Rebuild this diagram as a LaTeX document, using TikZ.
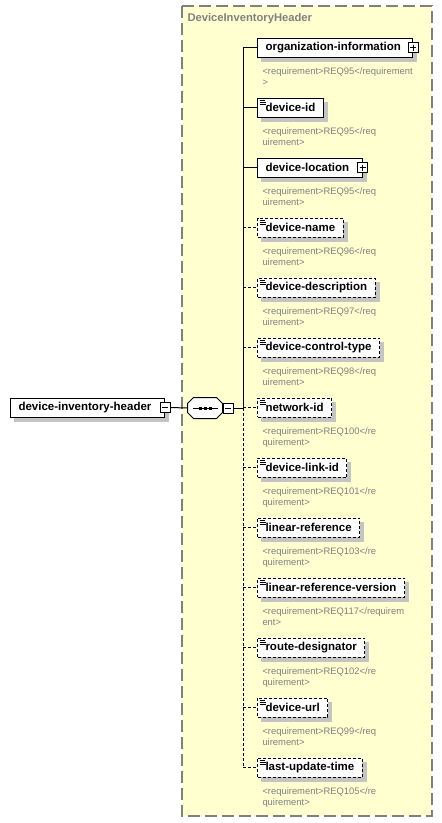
\documentclass[tikz,border=0pt]{standalone}
\usepackage{fontspec}
\newfontfamily\xsdfont{Liberation Sans}
\usetikzlibrary{calc, backgrounds}

\definecolor{groupfill}{RGB}{255,255,208}
\definecolor{framegray}{RGB}{128,128,128}
\definecolor{shadowgray}{RGB}{196,196,196}

\tikzset{
  elem/.style={draw, fill=white, line width=1pt, anchor=west, minimum height=19pt,
    inner ysep=0pt, inner xsep=8pt, font=\xsdfont\bfseries\fontsize{11.5}{13}\selectfont},
  optional/.style={dash pattern=on 3pt off 2pt},
  leaf/.style={path picture={
    \draw[line width=0.8pt, solid] ([xshift=2pt,yshift=-2pt]path picture bounding box.north west) -- ++(5pt,0pt);
    \draw[line width=0.8pt, solid] ([xshift=2pt,yshift=-4pt]path picture bounding box.north west) -- ++(6pt,0pt);
    \draw[line width=0.8pt, solid] ([xshift=2pt,yshift=-6pt]path picture bounding box.north west) -- ++(6pt,0pt);}},
  anno/.style={anchor=north west, inner sep=0pt, align=left, text=framegray,
    font=\xsdfont\fontsize{9.4}{10.5}\selectfont},
  togglebox/.style={draw, fill=white, line width=0.8pt, minimum size=10pt, inner sep=0pt},
  plusbox/.style={togglebox, path picture={
    \draw[line width=0.8pt] ([xshift=2pt]path picture bounding box.west) -- ([xshift=-2pt]path picture bounding box.east);
    \draw[line width=0.8pt] ([yshift=-2pt]path picture bounding box.north) -- ([yshift=2pt]path picture bounding box.south);}},
  minusbox/.style={togglebox, path picture={
    \draw[line width=0.8pt] ([xshift=2pt]path picture bounding box.west) -- ([xshift=-2pt]path picture bounding box.east);}},
  boxshadow/.style={fill=shadowgray},
}

\begin{document}
\begin{tikzpicture}[x=1pt, y=-1pt, line width=1pt]
  \useasboundingbox (0,0) rectangle (442,823);
  \node[anchor=west, inner sep=0pt, text=framegray, font=\xsdfont\bfseries\fontsize{11.2}{13}\selectfont] (title) at (187,19) {DeviceInventoryHeader};

  % root element and sequence
  \node[elem] (root) at (10,407.5) {device-inventory-header\hspace{5pt}\null};
  \node[minusbox] (rootminus) at (root.east) {};
  \node[minimum width=34pt, minimum height=20pt, inner sep=0pt] (seq) at (205,408) {};
  % octagon of the sequence
  \draw[fill=white] ($(seq.north west)+(6,0)$) -- ($(seq.north east)+(-6,0)$) -- ($(seq.north east)+(0,6)$)
    -- ($(seq.south east)+(0,-6)$) -- ($(seq.south east)+(-6,0)$) -- ($(seq.south west)+(6,0)$)
    -- ($(seq.south west)+(0,-6)$) -- ($(seq.north west)+(0,6)$) -- cycle;
  \draw ([xshift=5pt]seq.west) -- ([xshift=-5pt]seq.east);
  \fill ($(seq.center)+(-6.5,-1.5)$) rectangle ++(3,3);
  \fill ($(seq.center)+(-1.5,-1.5)$) rectangle ++(3,3);
  \fill ($(seq.center)+(3.5,-1.5)$) rectangle ++(3,3);
  \node[minusbox] (seqminus) at (228,408) {};
  \coordinate (seqjoin) at (243,408);
  \draw (rootminus.east) -- (seq.west);
  \draw (seqminus.east) -- (seqjoin);

  % children of the sequence
  \node[elem] (orginfo) at (257,47.5) {organization-information\hspace{4pt}\null};
  \node[plusbox] (orginfoplus) at (orginfo.east) {};
  \node[anno] (orginfonote) at (262,67.5) {<requirement>REQ95</requirement\\>};

  \node[elem, leaf] (devid) at (257,107.5) {device-id};
  \node[anno] (devidnote) at (262,127.5) {<requirement>REQ95</req\\uirement>};

  \node[elem] (devloc) at (257,167.5) {device-location\hspace{5pt}\null};
  \node[plusbox] (devlocplus) at (devloc.east) {};
  \node[anno] (devlocnote) at (262,187.5) {<requirement>REQ95</req\\uirement>};

  \node[elem, leaf, optional] (devname) at (257,227.5) {device-name};
  \node[anno] (devnamenote) at (262,247.5) {<requirement>REQ96</req\\uirement>};

  \node[elem, leaf, optional] (devdesc) at (257,287.5) {device-description};
  \node[anno] (devdescnote) at (262,307.5) {<requirement>REQ97</req\\uirement>};

  \node[elem, leaf, optional] (ctrltype) at (257,347.5) {device-control-type};
  \node[anno] (ctrltypenote) at (262,367.5) {<requirement>REQ98</req\\uirement>};

  \node[elem, leaf, optional] (netid) at (257,407.5) {network-id};
  \node[anno] (netidnote) at (262,427.5) {<requirement>REQ100</re\\quirement>};

  \node[elem, leaf, optional] (linkid) at (257,467.5) {device-link-id};
  \node[anno] (linkidnote) at (262,487.5) {<requirement>REQ101</re\\quirement>};

  \node[elem, leaf, optional] (linref) at (257,527.5) {linear-reference};
  \node[anno] (linrefnote) at (262,547.5) {<requirement>REQ103</re\\quirement>};

  \node[elem, leaf, optional] (linrefver) at (257,587.5) {linear-reference-version};
  \node[anno] (linrefvernote) at (262,607.5) {<requirement>REQ117</requirem\\ent>};

  \node[elem, leaf, optional] (routedes) at (257,647.5) {route-designator};
  \node[anno] (routedesnote) at (262,667.5) {<requirement>REQ102</re\\quirement>};

  \node[elem, leaf, optional] (devurl) at (257,707.5) {device-url};
  \node[anno] (devurlnote) at (262,727.5) {<requirement>REQ99</req\\uirement>};

  \node[elem, leaf, optional] (lastupd) at (257,767.5) {last-update-time};
  \node[anno] (lastupdnote) at (262,787.5) {<requirement>REQ105</re\\quirement>};

  % spine: solid above the join, dashed below
  \draw (seqjoin |- orginfo.west) -- (seqjoin);
  \draw[optional] (seqjoin) -- (seqjoin |- lastupd.west);
  \draw (seqjoin |- orginfo.west) -- (orginfo.west);
  \draw (seqjoin |- devid.west) -- (devid.west);
  \draw (seqjoin |- devloc.west) -- (devloc.west);
  \draw[optional] (seqjoin |- devname.west) -- (devname.west);
  \draw[optional] (seqjoin |- devdesc.west) -- (devdesc.west);
  \draw[optional] (seqjoin |- ctrltype.west) -- (ctrltype.west);
  \draw[optional] (seqjoin |- netid.west) -- (netid.west);
  \draw[optional] (seqjoin |- linkid.west) -- (linkid.west);
  \draw[optional] (seqjoin |- linref.west) -- (linref.west);
  \draw[optional] (seqjoin |- linrefver.west) -- (linrefver.west);
  \draw[optional] (seqjoin |- routedes.west) -- (routedes.west);
  \draw[optional] (seqjoin |- devurl.west) -- (devurl.west);
  \draw[optional] (seqjoin |- lastupd.west) -- (lastupd.west);

  % group frame and shadows behind everything
  \begin{pgfonlayer}{background}
    \draw[framegray, fill=groupfill, line width=1.2pt, dash pattern=on 12pt off 5pt] (182,6) rectangle (432,816);
    \fill[boxshadow, xshift=4pt, yshift=-4pt] ($(seq.north west)+(6,0)$) -- ($(seq.north east)+(-6,0)$) -- ($(seq.north east)+(0,6)$)
      -- ($(seq.south east)+(0,-6)$) -- ($(seq.south east)+(-6,0)$) -- ($(seq.south west)+(6,0)$)
      -- ($(seq.south west)+(0,-6)$) -- ($(seq.north west)+(0,6)$) -- cycle;
    \fill[boxshadow] ([shift={(4pt,-4pt)}]root.north west) rectangle ([shift={(4pt,-4pt)}]root.south east);
    \fill[boxshadow] ([shift={(4pt,-4pt)}]orginfo.north west) rectangle ([shift={(4pt,-4pt)}]orginfo.south east);
    \fill[boxshadow] ([shift={(4pt,-4pt)}]devid.north west) rectangle ([shift={(4pt,-4pt)}]devid.south east);
    \fill[boxshadow] ([shift={(4pt,-4pt)}]devloc.north west) rectangle ([shift={(4pt,-4pt)}]devloc.south east);
    \fill[boxshadow] ([shift={(4pt,-4pt)}]devname.north west) rectangle ([shift={(4pt,-4pt)}]devname.south east);
    \fill[boxshadow] ([shift={(4pt,-4pt)}]devdesc.north west) rectangle ([shift={(4pt,-4pt)}]devdesc.south east);
    \fill[boxshadow] ([shift={(4pt,-4pt)}]ctrltype.north west) rectangle ([shift={(4pt,-4pt)}]ctrltype.south east);
    \fill[boxshadow] ([shift={(4pt,-4pt)}]netid.north west) rectangle ([shift={(4pt,-4pt)}]netid.south east);
    \fill[boxshadow] ([shift={(4pt,-4pt)}]linkid.north west) rectangle ([shift={(4pt,-4pt)}]linkid.south east);
    \fill[boxshadow] ([shift={(4pt,-4pt)}]linref.north west) rectangle ([shift={(4pt,-4pt)}]linref.south east);
    \fill[boxshadow] ([shift={(4pt,-4pt)}]linrefver.north west) rectangle ([shift={(4pt,-4pt)}]linrefver.south east);
    \fill[boxshadow] ([shift={(4pt,-4pt)}]routedes.north west) rectangle ([shift={(4pt,-4pt)}]routedes.south east);
    \fill[boxshadow] ([shift={(4pt,-4pt)}]devurl.north west) rectangle ([shift={(4pt,-4pt)}]devurl.south east);
    \fill[boxshadow] ([shift={(4pt,-4pt)}]lastupd.north west) rectangle ([shift={(4pt,-4pt)}]lastupd.south east);
  \end{pgfonlayer}
\end{tikzpicture}
\end{document}
